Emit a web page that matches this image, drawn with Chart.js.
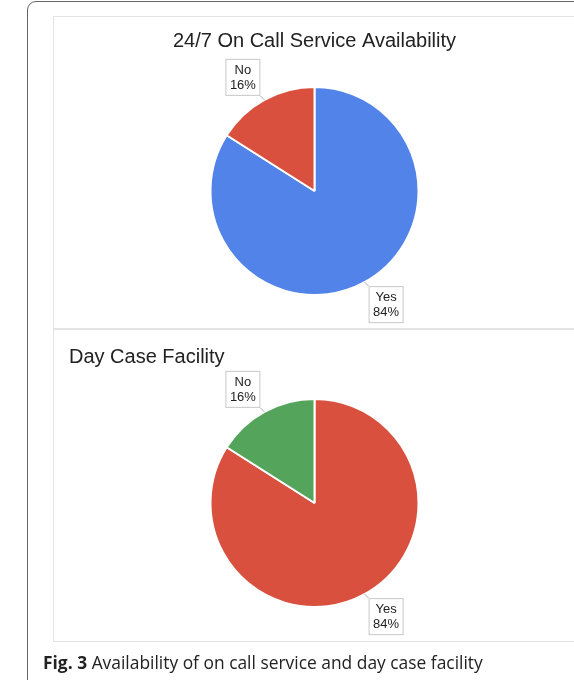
<!DOCTYPE html>
<html>
<head>
<meta charset="utf-8">
<script src="https://cdn.jsdelivr.net/npm/chart.js@4.4.1/dist/chart.umd.min.js"></script>
<style>
  html, body { margin: 0; padding: 0; background: #fff; }
  body { width: 574px; height: 680px; position: relative; overflow: hidden; }
  #frame {
    position: absolute; left: 27px; top: 1px; width: 560px; height: 700px;
    border: 1.5px solid #666; border-radius: 9px; box-sizing: border-box;
  }
  .panel {
    position: absolute; left: 53px; width: 530px; height: 313px;
    border: 1px solid #e3e3e3; box-sizing: border-box; background: #fff;
  }
  #p1 { top: 16px; }
  #p2 { top: 329px; }
  .panel canvas { position: absolute; left: 0; top: 0; }
  #caption {
    position: absolute; left: 43px; top: 650px;
    font-family: "Open Sans", sans-serif; font-size: 17.4px; color: #222;
    white-space: nowrap;
  }
  #caption b { font-weight: 700; }
</style>
</head>
<body>
<div id="frame"></div>
<div class="panel" id="p1"><canvas id="grafico1" width="521" height="313"></canvas></div>
<div class="panel" id="p2"><canvas id="grafico2" width="521" height="313"></canvas></div>
<div id="caption"><b>Fig. 3</b> Availability of on call service and day case facility</div>

<script>
// Datos de los dos graficos
const etiquetas = ['Yes', 'No'];
const guardia = [84, 16];
const diaCaso = [84, 16];
const coloresGuardia = ['#5283e8', '#d9503f'];
const coloresDiaCaso = ['#d9503f', '#55a45b'];

Chart.defaults.font.family = 'Arial, "Liberation Sans", sans-serif';
Chart.defaults.animation = false;

// Plugin para las etiquetas con caja y linea guia
const etiquetasCaja = {
    id: 'etiquetasCaja',
    afterDatasetsDraw(chart) {
        const ctx = chart.ctx;
        const meta = chart.getDatasetMeta(0);
        const valores = chart.data.datasets[0].data;
        const total = valores.reduce((a, b) => a + b, 0);
        meta.data.forEach((arc, i) => {
            const p = arc.getProps(['x', 'y', 'startAngle', 'endAngle', 'outerRadius'], true);
            const medio = (p.startAngle + p.endAngle) / 2;
            const dx = Math.cos(medio), dy = Math.sin(medio);
            const ex = p.x + dx * p.outerRadius;
            const ey = p.y + dy * p.outerRadius;
            const w = 35, h = 37, gap = 4;
            const sx = dx < 0 ? -1 : 1, sy = dy < 0 ? -1 : 1;
            const cx = ex + sx * (w / 2 + gap);
            const cy = ey + sy * (h / 2 + gap);
            // linea guia
            ctx.save();
            ctx.strokeStyle = '#aaa';
            ctx.lineWidth = 1;
            ctx.beginPath();
            ctx.moveTo(ex, ey);
            ctx.lineTo(cx - sx * w / 2, cy - sy * h / 2);
            ctx.stroke();
            // caja
            ctx.fillStyle = '#fff';
            ctx.fillRect(cx - w / 2, cy - h / 2, w, h);
            ctx.strokeStyle = '#c8c8c8';
            ctx.strokeRect(cx - w / 2 + 0.5, cy - h / 2 + 0.5, w - 1, h - 1);
            // texto
            ctx.fillStyle = '#222';
            ctx.font = '13px Arial, "Liberation Sans", sans-serif';
            ctx.textAlign = 'center';
            ctx.textBaseline = 'middle';
            const pct = Math.round(valores[i] / total * 100) + '%';
            ctx.fillText(chart.data.labels[i], cx, cy - 7);
            ctx.fillText(pct, cx, cy + 8);
            ctx.restore();
        });
    }
};

function crearPastel(id, titulo, valores, colores, alinear, padTitulo, padLayout) {
    const ctx = document.getElementById(id).getContext('2d');
    return new Chart(ctx, {
        type: 'pie',
        data: {
            labels: etiquetas,
            datasets: [{
                data: valores,
                backgroundColor: colores,
                borderColor: '#ffffff',
                borderWidth: 2
            }]
        },
        options: {
            responsive: false,
            layout: { padding: padLayout },
            plugins: {
                legend: { display: false },
                tooltip: { enabled: false },
                title: {
                    display: true,
                    text: titulo,
                    align: alinear,
                    color: '#222',
                    font: { size: 20, weight: 'normal', lineHeight: 1.2 },
                    padding: padTitulo
                }
            }
        },
        plugins: [etiquetasCaja]
    });
}

crearPastel('grafico1', '24/7 On Call Service Availability', guardia, coloresGuardia,
    'center', { top: 12, bottom: 33 }, { left: 0, right: 0, top: 0, bottom: 34 });
crearPastel('grafico2', 'Day Case Facility', diaCaso, coloresDiaCaso,
    'start', { top: 15, bottom: 29 }, { left: 15, right: 15, top: 0, bottom: 35 });
</script>
</body>
</html>
